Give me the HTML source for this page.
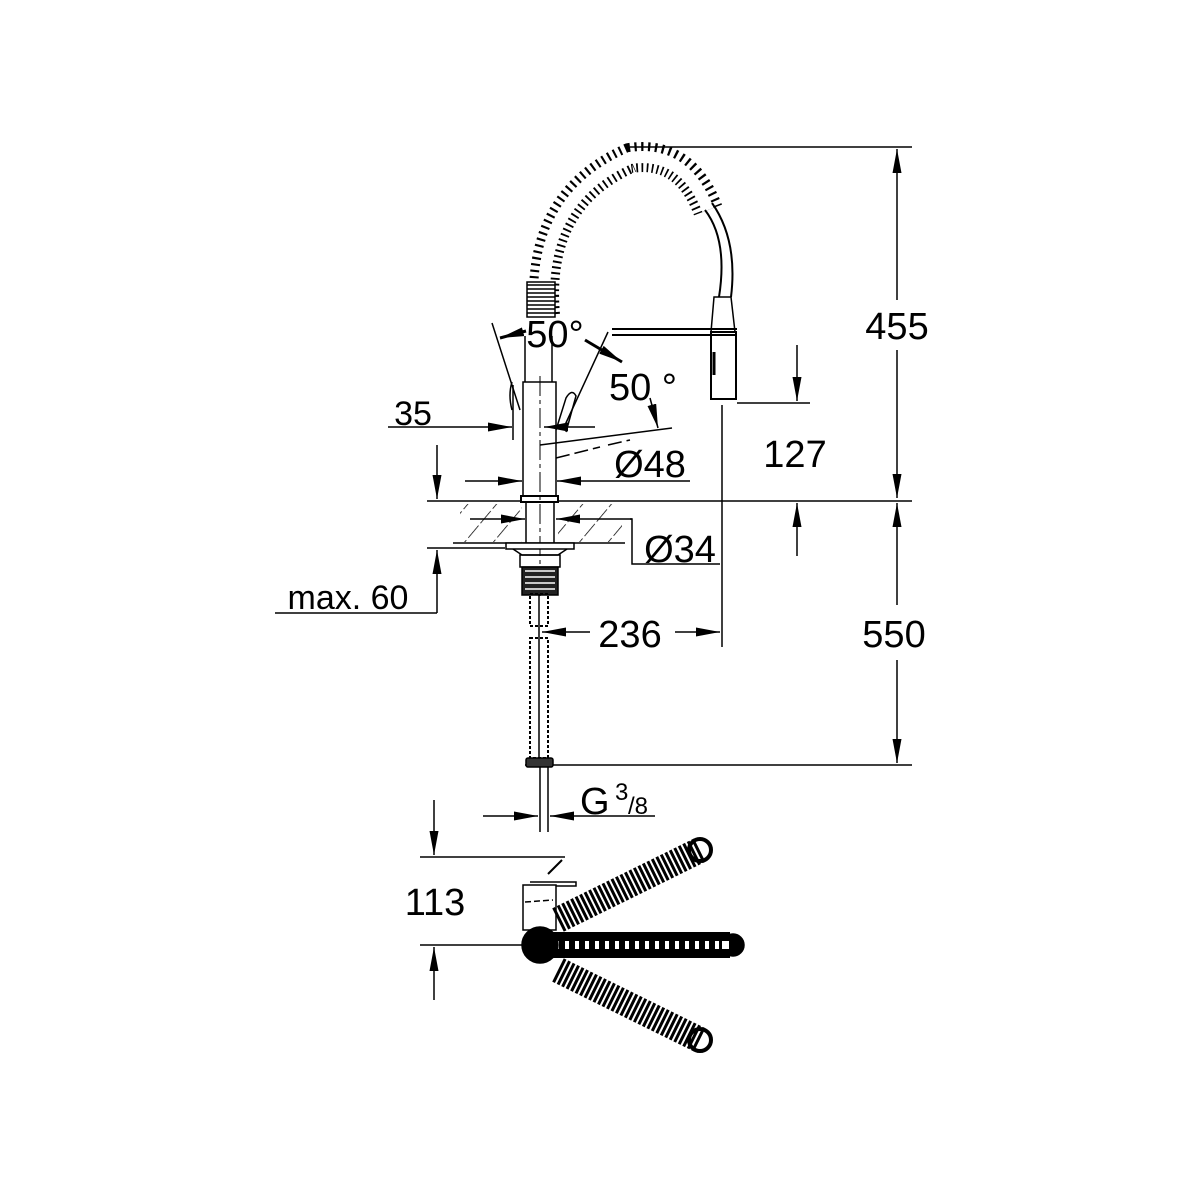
<!DOCTYPE html>
<html><head><style>
html,body{margin:0;padding:0;background:#fff;}
svg{display:block;}
text{font-family:"Liberation Sans",sans-serif;fill:#000;}
</style></head><body>
<svg width="1200" height="1200" viewBox="0 0 1200 1200" xmlns="http://www.w3.org/2000/svg">
<defs>
<marker id="a" viewBox="0 0 10 10" refX="10" refY="5" markerWidth="24" markerHeight="9" markerUnits="userSpaceOnUse" orient="auto" preserveAspectRatio="none"><path d="M0,0L10,5L0,10z"/></marker>
<pattern id="h" width="22" height="19" patternUnits="userSpaceOnUse" patternTransform="rotate(40)"><line x1="0" y1="0" x2="0" y2="19" stroke="#000" stroke-width="1.5" stroke-dasharray="16 3"/></pattern>
</defs>
<g stroke="#000" fill="none" stroke-width="1.5">
<line x1="630" y1="147" x2="912" y2="147"/>
<line x1="897" y1="300" x2="897" y2="149" marker-end="url(#a)"/>
<line x1="897" y1="350" x2="897" y2="498" marker-end="url(#a)"/>
<line x1="897" y1="605" x2="897" y2="503" marker-end="url(#a)"/>
<line x1="897" y1="660" x2="897" y2="763" marker-end="url(#a)"/>
<line x1="427" y1="501" x2="912" y2="501"/>
<line x1="525" y1="765" x2="912" y2="765"/>
<rect x="460" y="504" width="162" height="38" fill="url(#h)" stroke="none"/>
<rect x="522" y="502" width="36" height="40" fill="#fff" stroke="none"/>
<line x1="453" y1="543" x2="625" y2="543"/>
<rect x="523" y="382" width="33" height="116" fill="#fff"/>
<rect x="521" y="496" width="37" height="6" fill="#fff" stroke-width="2"/>
<line x1="540" y1="376" x2="540" y2="600" stroke-dasharray="20 4 4 4" stroke-width="1"/>
<line x1="526" y1="502" x2="526" y2="543"/><line x1="554" y1="502" x2="554" y2="543"/>
<rect x="506" y="543" width="68" height="6" fill="#fff"/>
<path d="M513 549L522 555H558L567 549"/>
<rect x="520" y="555" width="40" height="12"/>
<rect x="522" y="567" width="36" height="28" fill="#222"/>
<line x1="525" y1="571" x2="555" y2="571" stroke="#fff"/><line x1="525" y1="577" x2="555" y2="577" stroke="#fff"/><line x1="525" y1="583" x2="555" y2="583" stroke="#fff"/><line x1="525" y1="589" x2="555" y2="589" stroke="#fff"/>
<rect x="530" y="594" width="18" height="32" stroke-width="2" stroke-dasharray="3 2"/>
<rect x="530" y="638" width="18" height="120" stroke-width="2" stroke-dasharray="3 2"/>
<line x1="539" y1="594" x2="539" y2="758"/>
<rect x="526" y="758" width="27" height="9" rx="2" fill="#333"/>
<line x1="540" y1="767" x2="540" y2="832"/><line x1="548" y1="767" x2="548" y2="832"/>
<path d="M556 430L566 398Q572 388 576 396L566 432"/>
<path d="M512 382Q508 395 512 410" />
<path d="M556 458L600 447M608 445L630 440" stroke-dasharray="14 5"/>
<line x1="492" y1="323" x2="520" y2="410"/>
<line x1="608" y1="332" x2="565" y2="425"/>
<line x1="540" y1="445" x2="672" y2="428"/>
<line x1="525" y1="336" x2="525" y2="382"/><line x1="552" y1="336" x2="552" y2="382"/>
<line x1="526" y1="331" x2="500" y2="338" marker-end="url(#a)" stroke-width="3"/>
<line x1="585" y1="340" x2="622" y2="362" marker-end="url(#a)" stroke-width="3"/>
<line x1="650" y1="398" x2="658" y2="428" marker-end="url(#a)"/>
<path d="M545 315 Q535 200 630 158 Q685 150 708 210" stroke="#000" stroke-width="30" stroke-dasharray="2 4"/>
<path d="M545 315 Q535 200 630 158 Q685 150 708 210" stroke="#fff" stroke-width="12"/>
<rect x="527" y="282" width="28" height="35" fill="#fff"/>
<g stroke-width="1.5"><line x1="527" y1="285" x2="555" y2="285"/><line x1="527" y1="289" x2="555" y2="289"/><line x1="527" y1="293" x2="555" y2="293"/><line x1="527" y1="297" x2="555" y2="297"/><line x1="527" y1="301" x2="555" y2="301"/><line x1="527" y1="305" x2="555" y2="305"/><line x1="527" y1="309" x2="555" y2="309"/><line x1="527" y1="313" x2="555" y2="313"/></g>
<path d="M705 210 Q728 240 719 297" stroke-width="2"/>
<path d="M712 203 Q738 240 731 297" stroke-width="2"/>
<path d="M714 297H731L735 332H711Z" fill="#fff"/>
<rect x="711" y="332" width="25" height="67" fill="#fff" stroke-width="2"/>
<line x1="714" y1="352" x2="714" y2="375" stroke-width="3"/>
<line x1="612" y1="329" x2="737" y2="329" stroke-width="2"/>
<line x1="612" y1="335" x2="737" y2="335" stroke-width="2"/>
<line x1="388" y1="427" x2="512" y2="427" marker-end="url(#a)"/>
<line x1="595" y1="427" x2="544" y2="427" marker-end="url(#a)"/>
<line x1="513" y1="385" x2="513" y2="440"/>
<line x1="465" y1="481" x2="522" y2="481" marker-end="url(#a)"/>
<line x1="690" y1="481" x2="557" y2="481" marker-end="url(#a)"/>
<line x1="470" y1="519" x2="525" y2="519" marker-end="url(#a)"/>
<polyline points="630,519 632,519 632,564 720,564"/>
<line x1="632" y1="519" x2="556" y2="519" marker-end="url(#a)"/>
<line x1="737" y1="403" x2="810" y2="403"/>
<line x1="797" y1="345" x2="797" y2="401" marker-end="url(#a)"/>
<line x1="797" y1="556" x2="797" y2="503" marker-end="url(#a)"/>
<line x1="722" y1="405" x2="722" y2="647"/>
<line x1="437" y1="445" x2="437" y2="499" marker-end="url(#a)"/>
<line x1="427" y1="548" x2="505" y2="548"/>
<line x1="437" y1="613" x2="437" y2="550" marker-end="url(#a)"/>
<line x1="275" y1="613" x2="437" y2="613"/>
<line x1="590" y1="632" x2="542" y2="632" marker-end="url(#a)"/>
<line x1="675" y1="632" x2="720" y2="632" marker-end="url(#a)"/>
<line x1="483" y1="816" x2="538" y2="816" marker-end="url(#a)"/>
<line x1="655" y1="816" x2="550" y2="816" marker-end="url(#a)"/>
<line x1="434" y1="800" x2="434" y2="855" marker-end="url(#a)"/>
<line x1="420" y1="857" x2="565" y2="857"/>
<line x1="420" y1="945" x2="525" y2="945"/>
<line x1="434" y1="1000" x2="434" y2="947" marker-end="url(#a)"/>
<path d="M562 860L548 874" stroke-width="2"/>
<path d="M530 882H576V886H555"/>
<rect x="523" y="885" width="33" height="45" fill="#fff"/>
<line x1="525" y1="902" x2="553" y2="900" stroke-dasharray="6 3"/>
<path d="M558 920L700 850" stroke="#000" stroke-width="26" stroke-dasharray="3 2"/>
<path d="M558 970L700 1040" stroke="#000" stroke-width="26" stroke-dasharray="3 2"/>
<circle cx="700" cy="850" r="11" stroke-width="4"/>
<circle cx="700" cy="1040" r="11" stroke-width="4"/>
<path d="M540 945H730" stroke="#000" stroke-width="26"/>
<path d="M555 945H725" stroke="#fff" stroke-width="8" stroke-dasharray="4 6"/>
<circle cx="540" cy="945" r="18" fill="#000"/>
<circle cx="733" cy="945" r="11" fill="#000"/>
<rect x="722" y="941" width="7" height="8" fill="#fff" stroke="none"/>
</g>
<g font-size="38">
<rect x="858" y="303" width="80" height="46" fill="#fff"/>
<text x="897" y="339" text-anchor="middle">455</text>
<rect x="858" y="610" width="80" height="46" fill="#fff"/>
<text x="894" y="647" text-anchor="middle">550</text>
<text x="795" y="467" text-anchor="middle">127</text>
<text x="630" y="647" text-anchor="middle">236</text>
<text x="435" y="915" text-anchor="middle">113</text>
<text x="650" y="477" text-anchor="middle">Ø48</text>
<text x="680" y="562" text-anchor="middle">Ø34</text>
<text x="413" y="425" text-anchor="middle" font-size="34">35</text>
<text x="348" y="609" text-anchor="middle" font-size="34">max. 60</text>
<text x="555" y="347" text-anchor="middle">50°</text>
<text x="643" y="400" text-anchor="middle">50 °</text>
<text x="580" y="814">G</text>
<text x="615" y="800" font-size="24">3</text>
<text x="628" y="814" font-size="24">/8</text>
</g>
</svg>
</body></html>
